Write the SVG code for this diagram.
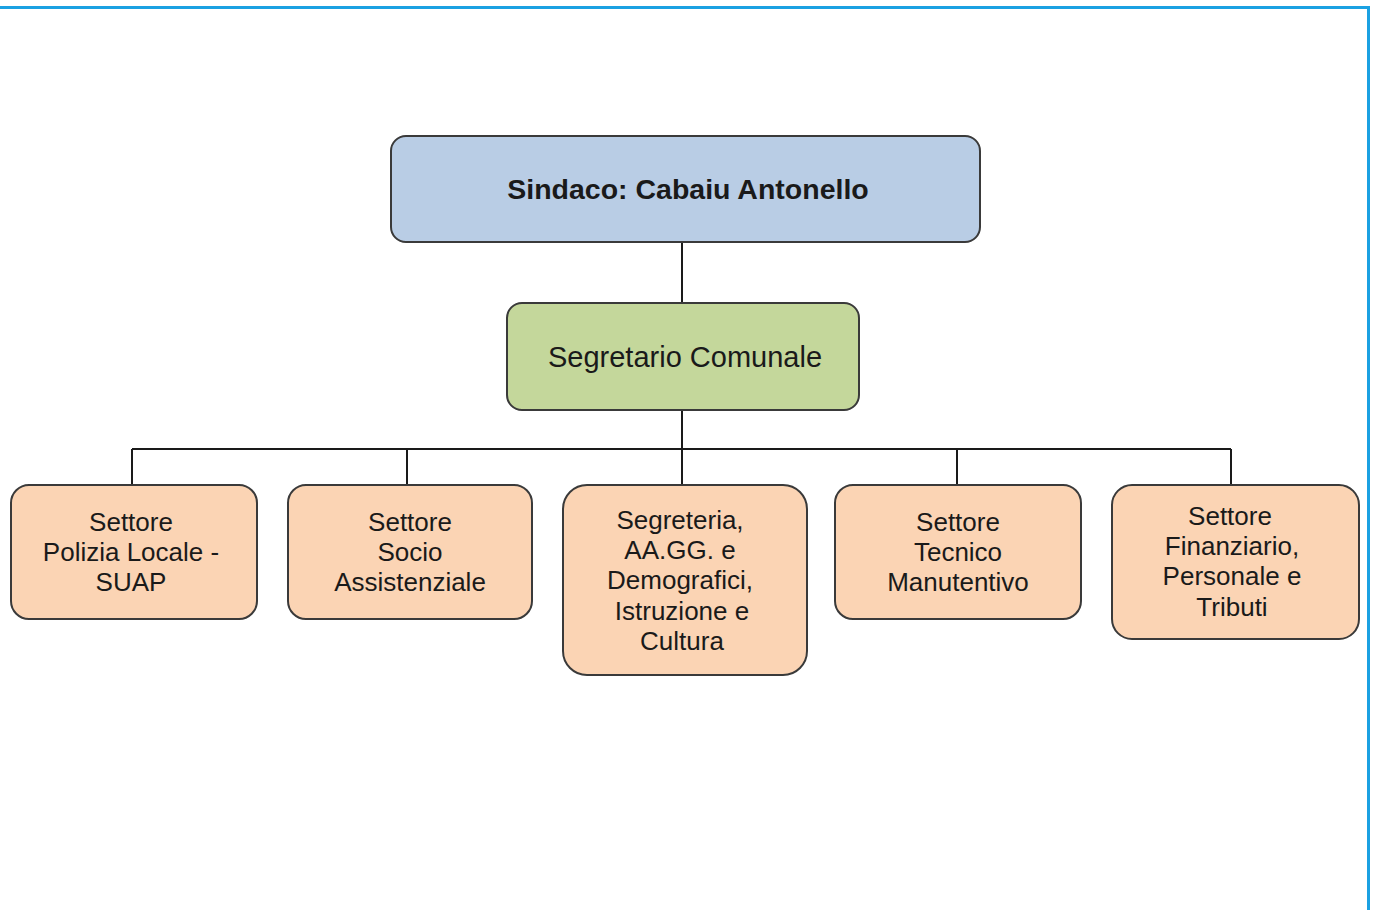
<svg xmlns="http://www.w3.org/2000/svg" width="1375" height="910" viewBox="0 0 1375 910">
<style>
.box{stroke:#3a3a3a;stroke-width:2}
.top{fill:#b9cde5}
.mid{fill:#c4d79b}
.sec{fill:#fbd4b4}
.t{font-family:"Liberation Sans",Arial,sans-serif;fill:#1a1a1a;text-anchor:middle}
.sm{font-size:26px}
.conn{stroke:#1a1a1a;stroke-width:2;fill:none}
.frame{stroke:#1ba1e2;stroke-width:3;fill:none}
</style>
<rect width="1375" height="910" fill="#ffffff"/>
<path class="frame" d="M0 7.5 H1368.5 V910"/>
<g id="connectors">
<path class="conn" d="M682 242 V303 M682 410 V485 M132 449 H1231 M132 449 V485 M407 449 V485 M957 449 V485 M1231 449 V485"/>
</g>
<g id="sindaco">
<rect class="box top" x="391" y="136" width="589" height="106" rx="15"/>
<text class="t" x="688" y="199" font-size="28.5" font-weight="bold">Sindaco: Cabaiu Antonello</text>
</g>
<g id="segretario">
<rect class="box mid" x="507" y="303" width="352" height="107" rx="15"/>
<text class="t" x="685" y="367" font-size="29">Segretario Comunale</text>
</g>
<g id="polizia">
<rect class="box sec" x="11" y="485" width="246" height="134" rx="18"/>
<text class="t sm" x="131"><tspan x="131" y="531">Settore</tspan><tspan x="131" y="561">Polizia Locale -</tspan><tspan x="131" y="591">SUAP</tspan></text>
</g>
<g id="socio">
<rect class="box sec" x="288" y="485" width="244" height="134" rx="18"/>
<text class="t sm" x="410"><tspan x="410" y="531">Settore</tspan><tspan x="410" y="561">Socio</tspan><tspan x="410" y="591">Assistenziale</tspan></text>
</g>
<g id="segreteria">
<rect class="box sec" x="563" y="485" width="244" height="190" rx="24"/>
<text class="t sm" x="680"><tspan x="680" y="529">Segreteria,</tspan><tspan x="680" y="559">AA.GG. e</tspan><tspan x="680" y="589">Demografici,</tspan><tspan x="682" y="620">Istruzione e</tspan><tspan x="682" y="650">Cultura</tspan></text>
</g>
<g id="tecnico">
<rect class="box sec" x="835" y="485" width="246" height="134" rx="18"/>
<text class="t sm" x="958"><tspan x="958" y="531">Settore</tspan><tspan x="958" y="561">Tecnico</tspan><tspan x="958" y="591">Manutentivo</tspan></text>
</g>
<g id="finanziario">
<rect class="box sec" x="1112" y="485" width="247" height="154" rx="20"/>
<text class="t sm" x="1231"><tspan x="1230" y="525">Settore</tspan><tspan x="1232" y="555">Finanziario,</tspan><tspan x="1232" y="585">Personale e</tspan><tspan x="1232" y="616">Tributi</tspan></text>
</g>
</svg>
